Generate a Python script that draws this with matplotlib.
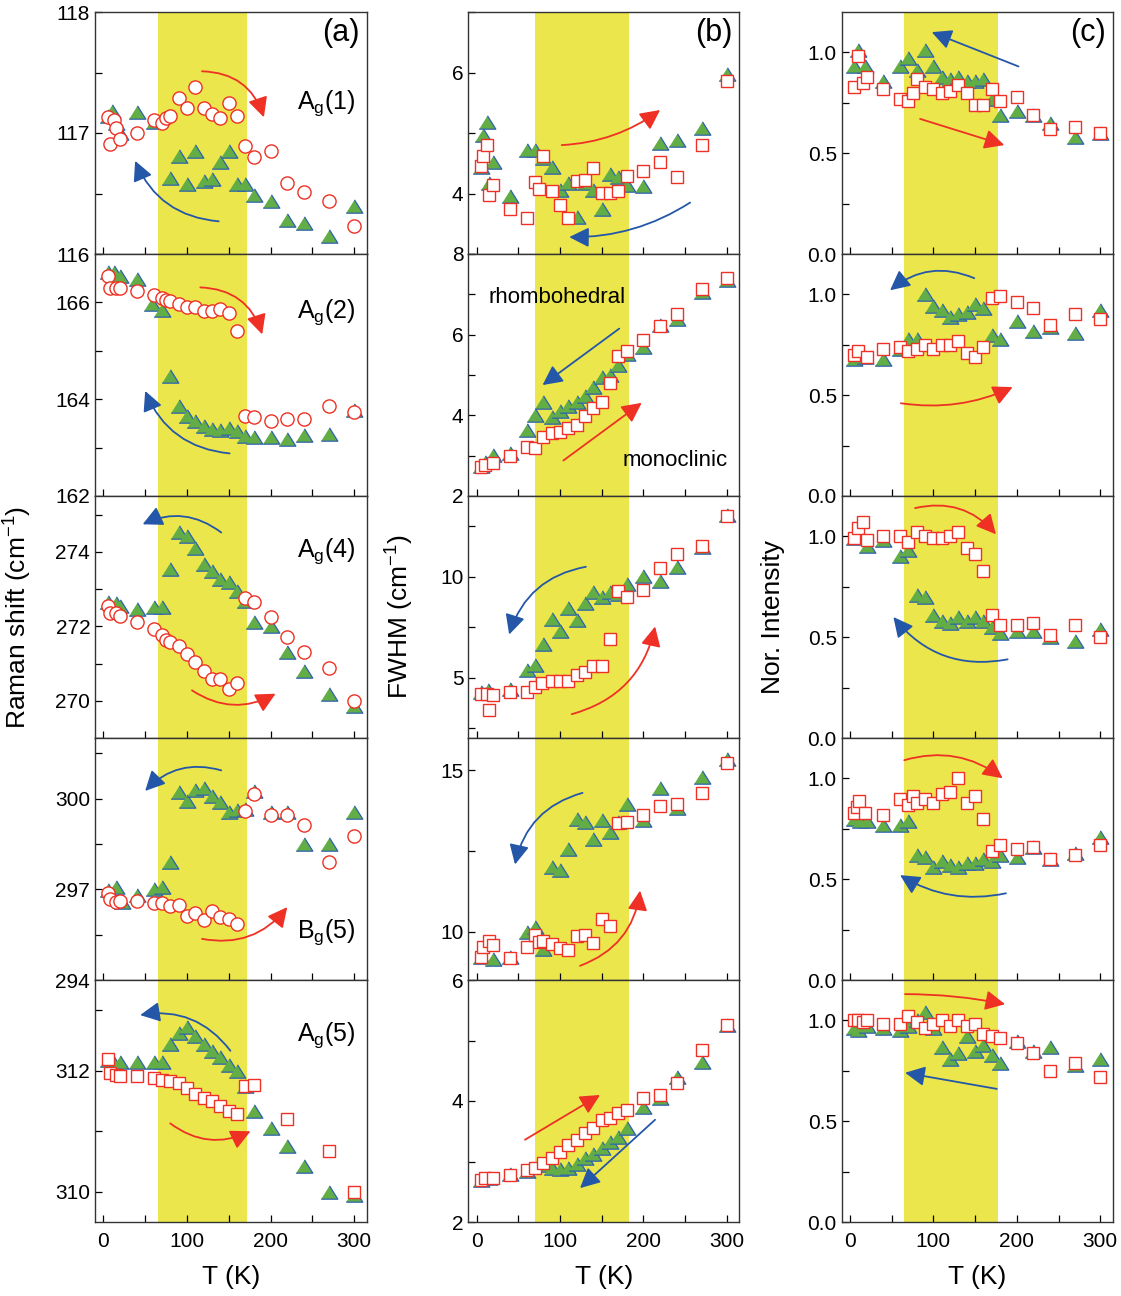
import numpy as np
import matplotlib
matplotlib.use('Agg')
import matplotlib.pyplot as plt
from matplotlib.ticker import MultipleLocator, FormatStrFormatter

plt.rcParams['font.family'] = ['Liberation Sans', 'DejaVu Sans']
plt.rcParams['mathtext.fontset'] = 'custom'
plt.rcParams['mathtext.rm'] = 'Liberation Sans'
plt.rcParams['mathtext.it'] = 'Liberation Sans:italic'

# ---------------- data (T in K) ----------------
# column (a): Raman shift
a1_T_tri = [5, 10, 15, 20, 40, 60, 80, 90, 100, 110, 120, 130, 140, 150, 160, 170, 180, 200, 220, 240, 270, 300]
a1_tri = [117.14, 117.18, 117.08, 117.0, 117.17, 117.09, 116.63, 116.81, 116.58, 116.85, 116.60, 116.62, 116.76,
          116.85, 116.58, 116.58, 116.49, 116.44, 116.28, 116.26, 116.15, 116.40]
a1_T_red = [5, 8, 13, 15, 20, 40, 60, 70, 75, 80, 90, 100, 110, 120, 130, 140, 150, 160, 170, 180, 200, 220, 240, 270, 300]
a1_red = [117.13, 116.91, 117.11, 117.04, 116.95, 117.0, 117.11, 117.08, 117.12, 117.14, 117.29, 117.21, 117.38,
          117.21, 117.16, 117.12, 117.25, 117.14, 116.89, 116.80, 116.85, 116.59, 116.51, 116.44, 116.23]

a2_T_tri = [5, 13, 20, 40, 58, 70, 80, 90, 100, 110, 120, 130, 140, 150, 160, 170, 180, 200, 220, 240, 270, 300]
a2_tri = [166.62, 166.62, 166.55, 166.48, 165.97, 165.84, 164.48, 163.86, 163.66, 163.55, 163.45, 163.38, 163.37,
          163.41, 163.34, 163.24, 163.21, 163.21, 163.17, 163.26, 163.29, 163.77]
a2_T_red = [5, 8, 15, 20, 40, 60, 70, 75, 80, 90, 100, 110, 120, 130, 140, 150, 160, 170, 180, 200, 220, 240, 270, 300]
a2_red = [166.55, 166.30, 166.30, 166.30, 166.24, 166.16, 166.09, 166.05, 166.02, 165.97, 165.91, 165.91, 165.83,
          165.83, 165.86, 165.79, 165.41, 163.66, 163.63, 163.54, 163.59, 163.59, 163.86, 163.74]

a3_T_tri = [5, 15, 20, 40, 60, 70, 80, 90, 100, 110, 120, 130, 140, 150, 160, 170, 180, 200, 220, 240, 270, 300]
a3_tri = [272.64, 272.62, 272.55, 272.46, 272.51, 272.51, 273.54, 274.52, 274.43, 274.10, 273.67, 273.49, 273.27,
          273.18, 272.96, 272.69, 272.11, 272.02, 271.30, 270.81, 270.19, 269.87]
a3_T_red = [5, 8, 15, 20, 40, 60, 70, 75, 80, 90, 100, 110, 120, 130, 140, 150, 160, 170, 180, 200, 220, 240, 270, 300]
a3_red = [272.55, 272.35, 272.35, 272.29, 272.11, 271.93, 271.77, 271.62, 271.57, 271.46, 271.26, 271.04, 270.81,
          270.59, 270.59, 270.32, 270.48, 272.76, 272.66, 272.24, 271.71, 271.32, 270.88, 270.0]

a4_T_tri = [5, 15, 22, 40, 60, 70, 80, 90, 100, 110, 120, 130, 140, 150, 160, 170, 180, 200, 220, 240, 270, 300]
a4_tri = [296.96, 297.07, 296.57, 296.82, 297.01, 297.09, 297.89, 300.20, 299.92, 300.27, 300.34, 300.09, 299.87,
          299.54, 299.62, 299.65, 300.25, 299.54, 299.54, 298.49, 298.49, 299.56]
a4_T_red = [5, 8, 15, 20, 40, 60, 70, 80, 90, 100, 110, 120, 130, 140, 150, 160, 170, 180, 200, 220, 240, 270, 300]
a4_red = [296.87, 296.68, 296.57, 296.60, 296.60, 296.55, 296.55, 296.46, 296.49, 296.10, 296.21, 295.99, 296.27,
          296.08, 296.02, 295.86, 299.59, 300.16, 299.46, 299.46, 299.12, 297.91, 298.77]

a5_T_tri = [5, 10, 20, 40, 60, 70, 80, 90, 100, 110, 120, 130, 140, 150, 160, 170, 180, 200, 220, 240, 270, 300]
a5_tri = [312.17, 312.17, 312.15, 312.15, 312.15, 312.15, 312.45, 312.62, 312.72, 312.58, 312.45, 312.33, 312.22,
          312.10, 312.0, 311.75, 311.33, 311.05, 310.75, 310.42, 310.0, 309.95]
a5_T_red = [5, 8, 15, 20, 40, 60, 70, 80, 90, 100, 110, 120, 130, 140, 150, 160, 170, 180, 220, 270, 300]
a5_red = [312.2, 311.97, 311.93, 311.92, 311.92, 311.88, 311.85, 311.83, 311.8, 311.72, 311.62, 311.55, 311.5,
          311.42, 311.33, 311.28, 311.75, 311.77, 311.2, 310.67, 310.0]

# column (b): FWHM
b1_T_tri = [5, 8, 12, 15, 20, 40, 60, 70, 80, 90, 100, 110, 120, 130, 140, 150, 160, 170, 180, 200, 220, 240, 270, 300]
b1_tri = [4.44, 4.96, 5.18, 4.17, 4.52, 3.96, 4.72, 4.72, 4.59, 4.44, 4.06, 4.18, 3.61, 4.17, 4.06, 3.74, 4.32,
          4.28, 4.14, 4.12, 4.83, 4.88, 5.09, 5.98]
b1_T_red = [5, 8, 12, 15, 20, 40, 60, 70, 75, 80, 90, 100, 110, 120, 130, 140, 150, 160, 170, 180, 200, 220, 240, 270, 300]
b1_red = [4.45, 4.62, 4.80, 3.98, 4.14, 3.75, 3.60, 4.19, 4.08, 4.62, 4.04, 3.81, 3.60, 4.20, 4.22, 4.42, 4.01,
          4.01, 4.04, 4.29, 4.37, 4.52, 4.28, 4.80, 5.86]

b2_T_tri = [5, 10, 20, 40, 60, 70, 80, 90, 100, 110, 120, 130, 140, 150, 160, 170, 180, 200, 220, 240, 270, 300]
b2_tri = [2.74, 2.85, 3.02, 3.06, 3.64, 4.01, 4.34, 3.96, 4.11, 4.23, 4.34, 4.48, 4.71, 4.95, 4.99, 5.24, 5.53,
          5.70, 6.23, 6.40, 7.06, 7.35]
b2_T_red = [5, 10, 20, 40, 60, 70, 80, 90, 100, 110, 120, 130, 140, 150, 160, 170, 180, 200, 220, 240, 270, 300]
b2_red = [2.73, 2.77, 2.81, 2.98, 3.22, 3.18, 3.47, 3.55, 3.59, 3.68, 3.76, 3.99, 4.17, 4.34, 4.81, 5.47, 5.59,
          5.88, 6.21, 6.52, 7.12, 7.41]

b3_T_tri = [5, 14, 40, 60, 70, 80, 90, 100, 110, 120, 130, 140, 150, 160, 170, 180, 200, 220, 240, 270, 300]
b3_tri = [4.28, 4.37, 4.45, 5.35, 5.60, 6.67, 7.91, 7.33, 8.45, 7.86, 8.68, 9.23, 8.98, 9.23, 9.14, 9.64, 10.05,
          9.77, 10.46, 11.48, 13.06]
b3_T_red = [5, 12, 15, 20, 40, 60, 70, 78, 90, 100, 110, 120, 130, 140, 150, 160, 170, 180, 200, 220, 240, 270, 300]
b3_red = [4.17, 4.17, 3.38, 4.12, 4.28, 4.28, 4.53, 4.73, 4.81, 4.81, 4.83, 5.11, 5.27, 5.55, 5.57, 6.92, 9.28,
          9.01, 9.36, 10.41, 11.12, 11.53, 13.01]

b4_T_tri = [5, 15, 20, 40, 60, 70, 80, 90, 100, 110, 120, 130, 140, 150, 160, 170, 180, 200, 220, 240, 270, 300]
b4_tri = [9.20, 9.67, 9.15, 9.20, 9.98, 10.13, 9.46, 12.00, 11.92, 12.57, 13.50, 13.40, 12.88, 13.45, 13.08, 13.40,
          13.94, 13.47, 14.46, 13.84, 14.79, 15.36]
b4_T_red = [5, 8, 15, 20, 40, 60, 70, 75, 80, 90, 100, 110, 120, 130, 140, 150, 160, 170, 180, 200, 220, 240, 270, 300]
b4_red = [9.20, 9.53, 9.72, 9.57, 9.18, 9.53, 9.88, 9.67, 9.70, 9.62, 9.48, 9.44, 9.86, 9.90, 9.65, 10.39, 10.17,
          13.36, 13.40, 13.60, 13.88, 13.96, 14.31, 15.21]

b5_T_tri = [5, 15, 40, 60, 80, 90, 100, 110, 120, 130, 140, 150, 160, 170, 180, 200, 220, 240, 270, 300]
b5_tri = [2.69, 2.73, 2.80, 2.85, 2.95, 2.90, 2.88, 2.90, 2.96, 3.05, 3.13, 3.22, 3.32, 3.40, 3.55, 3.90, 4.05,
          4.40, 4.65, 5.26]
b5_T_red = [5, 10, 20, 40, 60, 70, 80, 90, 100, 110, 120, 130, 140, 150, 160, 170, 180, 200, 220, 240, 270, 300]
b5_red = [2.69, 2.73, 2.73, 2.78, 2.86, 2.89, 2.98, 3.06, 3.16, 3.27, 3.36, 3.47, 3.55, 3.69, 3.72, 3.80, 3.85,
          4.05, 4.10, 4.30, 4.85, 5.26]

# column (c): normalized intensity
c1_T_tri = [5, 10, 18, 40, 60, 70, 80, 90, 100, 110, 120, 130, 140, 150, 160, 170, 180, 200, 220, 240, 270, 300]
c1_tri = [0.93, 1.01, 0.93, 0.86, 0.93, 0.97, 0.91, 1.01, 0.93, 0.88, 0.87, 0.88, 0.86, 0.86, 0.87, 0.77, 0.69,
          0.71, 0.69, 0.65, 0.58, 0.60]
c1_T_red = [5, 10, 15, 20, 40, 60, 70, 75, 80, 90, 100, 110, 120, 130, 140, 150, 160, 170, 180, 200, 220, 240, 270, 300]
c1_red = [0.83, 0.98, 0.85, 0.88, 0.82, 0.77, 0.76, 0.80, 0.87, 0.83, 0.82, 0.80, 0.81, 0.84, 0.80, 0.74, 0.74,
          0.82, 0.76, 0.78, 0.69, 0.62, 0.63, 0.60]

c2_T_tri = [5, 18, 40, 60, 70, 80, 90, 100, 110, 120, 130, 140, 150, 160, 170, 180, 200, 220, 240, 270, 300]
c2_tri = [0.68, 0.69, 0.68, 0.73, 0.78, 0.78, 1.0, 0.94, 0.92, 0.89, 0.90, 0.91, 0.95, 0.93, 0.80, 0.78, 0.87,
          0.82, 0.84, 0.81, 0.92]
c2_T_red = [5, 10, 20, 40, 60, 70, 80, 90, 100, 110, 120, 130, 140, 150, 160, 170, 180, 200, 220, 240, 270, 300]
c2_red = [0.70, 0.72, 0.69, 0.73, 0.74, 0.72, 0.73, 0.75, 0.73, 0.75, 0.75, 0.77, 0.71, 0.69, 0.74, 0.98, 0.99,
          0.96, 0.93, 0.85, 0.90, 0.88]

c3_T_tri = [5, 20, 40, 60, 70, 80, 90, 100, 110, 120, 130, 140, 150, 160, 170, 180, 200, 220, 240, 270, 300]
c3_tri = [0.99, 0.95, 0.98, 0.90, 0.93, 0.71, 0.70, 0.61, 0.58, 0.57, 0.60, 0.58, 0.60, 0.58, 0.55, 0.52, 0.53,
          0.53, 0.50, 0.48, 0.54]
c3_T_red = [5, 10, 15, 20, 40, 60, 70, 80, 90, 100, 110, 120, 130, 140, 150, 160, 170, 180, 200, 220, 240, 270, 300]
c3_red = [0.99, 1.04, 1.07, 0.98, 1.00, 1.00, 0.97, 1.02, 1.00, 0.99, 0.99, 1.00, 1.02, 0.94, 0.91, 0.83, 0.61,
          0.56, 0.56, 0.57, 0.51, 0.56, 0.50]

c4_T_tri = [5, 12, 20, 40, 60, 70, 80, 90, 100, 110, 120, 130, 140, 150, 160, 170, 180, 200, 220, 240, 270, 300]
c4_tri = [0.80, 0.79, 0.79, 0.77, 0.77, 0.79, 0.62, 0.61, 0.56, 0.59, 0.57, 0.56, 0.58, 0.58, 0.60, 0.59, 0.62,
          0.61, 0.66, 0.60, 0.63, 0.71]
c4_T_red = [5, 8, 11, 18, 40, 60, 70, 75, 80, 90, 100, 110, 120, 130, 140, 150, 160, 170, 180, 200, 220, 240, 270, 300]
c4_red = [0.83, 0.86, 0.89, 0.83, 0.82, 0.90, 0.87, 0.91, 0.88, 0.90, 0.88, 0.92, 0.93, 1.0, 0.88, 0.91, 0.80,
          0.64, 0.67, 0.65, 0.66, 0.60, 0.62, 0.67]

c5_T_tri = [5, 10, 20, 40, 60, 70, 80, 90, 100, 110, 120, 130, 140, 150, 160, 170, 180, 200, 220, 240, 270, 300]
c5_tri = [0.96, 0.95, 0.97, 0.96, 0.95, 0.97, 1.0, 1.04, 0.96, 0.87, 0.81, 0.84, 0.92, 0.85, 0.88, 0.83, 0.79,
          0.90, 0.85, 0.87, 0.78, 0.81]
c5_T_red = [5, 10, 15, 20, 40, 60, 70, 80, 90, 100, 110, 120, 130, 140, 150, 160, 170, 180, 200, 220, 240, 270, 300]
c5_red = [1.0, 1.0, 0.99, 1.0, 0.98, 0.98, 1.02, 0.99, 0.96, 0.98, 1.0, 0.97, 1.0, 0.97, 0.98, 0.93, 0.92, 0.91,
          0.89, 0.84, 0.75, 0.79, 0.72]

# ---------------- styling ----------------
RED = '#ee3124'
BLUE = '#2457a8'
GREEN = '#62ad45'
TRI_EDGE = '#2e62b0'
YELLOW = '#ebe64c'
tri_marker = [(-1, -0.8), (1, -0.8), (0, 0.8)]

fig = plt.figure(figsize=(11.21, 12.96), dpi=100)
W, H = 1121.0, 1296.0
col_left = [95.0, 468.3, 841.7]
col_width = [271.7, 271.0, 271.0]
row_top0, row_h = 12.0, 242.0

bands = [(65, 172), (70, 183), (65, 178)]

panels = [
    # col a
    [(a1_T_tri, a1_tri, a1_T_red, a1_red, 'o', (116, 118), 1.0, 0.5, '%d'),
     (a2_T_tri, a2_tri, a2_T_red, a2_red, 'o', (162, 167), 2.0, 1.0, '%d'),
     (a3_T_tri, a3_tri, a3_T_red, a3_red, 'o', (269, 275.5), 2.0, 1.0, '%d'),
     (a4_T_tri, a4_tri, a4_T_red, a4_red, 'o', (294, 302), 3.0, 1.5, '%d'),
     (a5_T_tri, a5_tri, a5_T_red, a5_red, 's', (309.5, 313.5), 2.0, 1.0, '%d')],
    # col b
    [(b1_T_tri, b1_tri, b1_T_red, b1_red, 's', (3, 7), 2.0, 1.0, '%d'),
     (b2_T_tri, b2_tri, b2_T_red, b2_red, 's', (2, 8), 2.0, 1.0, '%d'),
     (b3_T_tri, b3_tri, b3_T_red, b3_red, 's', (2, 14), 5.0, 2.5, '%d'),
     (b4_T_tri, b4_tri, b4_T_red, b4_red, 's', (8.5, 16), 5.0, 2.5, '%d'),
     (b5_T_tri, b5_tri, b5_T_red, b5_red, 's', (2, 6), 2.0, 1.0, '%d')],
    # col c
    [(c1_T_tri, c1_tri, c1_T_red, c1_red, 's', (0, 1.2), 0.5, 0.25, '%.1f'),
     (c2_T_tri, c2_tri, c2_T_red, c2_red, 's', (0, 1.2), 0.5, 0.25, '%.1f'),
     (c3_T_tri, c3_tri, c3_T_red, c3_red, 's', (0, 1.2), 0.5, 0.25, '%.1f'),
     (c4_T_tri, c4_tri, c4_T_red, c4_red, 's', (0, 1.2), 0.5, 0.25, '%.1f'),
     (c5_T_tri, c5_tri, c5_T_red, c5_red, 's', (0, 1.2), 0.5, 0.25, '%.1f')],
]

# arrows: (color, start (T, y), end (T, y), curvature)
arrows = [
    [[(RED, (118, 117.51), (192, 117.13), -0.35), (BLUE, (138, 116.27), (38, 116.77), -0.3)],
     [(RED, (116, 166.31), (190, 165.34), -0.35), (BLUE, (151, 162.88), (50, 164.17), -0.3)],
     [(BLUE, (141, 274.52), (47, 274.74), 0.3), (RED, (106, 270.28), (206, 270.19), 0.3)],
     [(BLUE, (141, 300.93), (50, 300.25), 0.3), (RED, (118, 295.36), (220, 296.41), 0.3)],
     [(BLUE, (152, 312.33), (44, 312.92), 0.3), (RED, (80, 311.13), (176, 311.0), 0.3)]],
    [[(RED, (102, 4.80), (220, 5.38), 0.15), (BLUE, (256, 3.85), (111, 3.28), -0.15)],
     [(BLUE, (171, 6.15), (79, 4.75), 0.0), (RED, (104, 2.88), (198, 4.31), 0.0)],
     [(BLUE, (131, 10.49), (39, 7.13), 0.3), (RED, (114, 3.18), (214, 7.53), 0.3)],
     [(BLUE, (127, 14.30), (46, 12.08), 0.3), (RED, (124, 8.94), (196, 11.27), 0.3)],
     [(RED, (58, 3.36), (148, 4.10), 0.0), (BLUE, (214, 3.69), (124, 2.56), 0.0)]],
    [[(BLUE, (202, 0.93), (98, 1.10), 0.0), (RED, (84, 0.67), (185, 0.54), 0.0)],
     [(BLUE, (149, 1.08), (48, 1.02), 0.3), (RED, (61, 0.46), (195, 0.54), 0.15)],
     [(RED, (78, 1.14), (175, 1.01), -0.3), (BLUE, (189, 0.39), (52, 0.60), -0.3)],
     [(RED, (65, 1.09), (183, 1.00), -0.25), (BLUE, (187, 0.43), (60, 0.52), -0.2)],
     [(RED, (66, 1.13), (186, 1.08), -0.05), (BLUE, (176, 0.66), (66, 0.74), 0.0)]],
]

mode_labels = [('A$_\\mathregular{g}$(1)', 0.60), ('A$_\\mathregular{g}$(2)', 0.735),
               ('A$_\\mathregular{g}$(4)', 0.75), ('B$_\\mathregular{g}$(5)', 0.175),
               ('A$_\\mathregular{g}$(5)', 0.75)]

for c in range(3):
    for r in range(5):
        T_tri, v_tri, T_red, v_red, red_marker, ylim, major, minor, fmt = panels[c][r]
        top = row_top0 + r * row_h
        ax = fig.add_axes([col_left[c] / W, 1 - (top + row_h) / H, col_width[c] / W, row_h / H])
        ax.axvspan(bands[c][0], bands[c][1], color=YELLOW, lw=0, zorder=0)
        ax.plot(T_tri, v_tri, linestyle='none', marker=tri_marker, ms=12, mfc=GREEN, mec=TRI_EDGE, mew=0.9, zorder=3)
        ms = 9.5 if red_marker == 'o' else 9
        ax.plot(T_red, v_red, linestyle='none', marker=red_marker, ms=ms, mfc='white', mec=RED, mew=1.0, zorder=4)
        ax.set_xlim(-10, 315)
        ax.set_ylim(*ylim)
        ax.xaxis.set_major_locator(MultipleLocator(100))
        ax.xaxis.set_minor_locator(MultipleLocator(50))
        ax.yaxis.set_major_locator(MultipleLocator(major))
        ax.yaxis.set_minor_locator(MultipleLocator(minor))
        ax.yaxis.set_major_formatter(FormatStrFormatter(fmt))
        ax.tick_params(which='both', direction='in', length=5, width=0.9, labelsize=15, top=False, right=False)
        ax.tick_params(axis='x', pad=7)
        if r < 4:
            ax.tick_params(axis='x', labelbottom=False)
        for sp in ax.spines.values():
            sp.set_linewidth(1.0)
            sp.set_color('#333333')
        for color, start, end, rad in arrows[c][r]:
            ax.annotate('', xy=end, xytext=start,
                        arrowprops=dict(arrowstyle='-|>,head_length=0.6,head_width=0.3', color=color, lw=1.3,
                                        mutation_scale=20, shrinkA=0, shrinkB=0,
                                        connectionstyle='arc3,rad=%s' % rad), zorder=5)
        if r == 0:
            ax.text(0.975, 0.975, '(%s)' % 'abc'[c], transform=ax.transAxes, ha='right', va='top', fontsize=22)
        if c == 0:
            txt, yy = mode_labels[r]
            ax.text(0.96, yy, txt, transform=ax.transAxes, ha='right', va='baseline', fontsize=18)
        if c == 1 and r == 1:
            ax.text(96, 6.93, 'rhombohedral', ha='center', va='center', fontsize=16)
            ax.text(238, 2.89, 'monoclinic', ha='center', va='center', fontsize=16)
        if r == 4:
            ax.set_xlabel('T (K)', fontsize=19, labelpad=10)

fig.text(0.016, 0.524, 'Raman shift (cm$^{\\mathregular{-1}}$)', rotation=90, ha='center', va='center', fontsize=19)
fig.text(0.357, 0.524, 'FWHM (cm$^{\\mathregular{-1}}$)', rotation=90, ha='center', va='center', fontsize=19)
fig.text(0.69, 0.524, 'Nor. Intensity', rotation=90, ha='center', va='center', fontsize=19)

fig.savefig('out.png', dpi=100)
